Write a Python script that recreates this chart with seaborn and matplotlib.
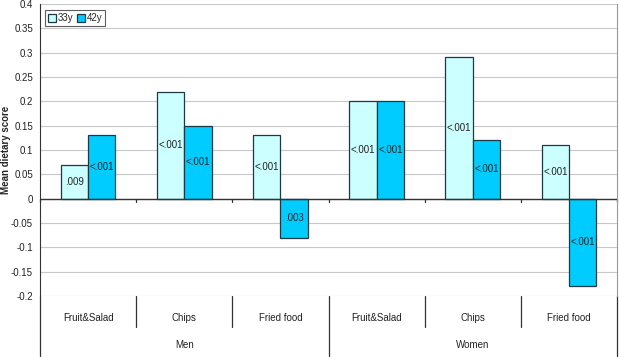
import pandas as pd
import matplotlib
matplotlib.use("Agg")
import matplotlib.pyplot as plt
import seaborn as sns

groups = ["Men", "Women"]
foods = ["Fruit&Salad", "Chips", "Fried food"]
ages = ["33y", "42y"]
men_33 = [0.07, 0.22, 0.13]
men_42 = [0.13, 0.15, -0.08]
women_33 = [0.20, 0.29, 0.11]
women_42 = [0.20, 0.12, -0.18]
p_33 = [".009", "<.001", "<.001", "<.001", "<.001", "<.001"]
p_42 = ["<.001", "<.001", ".003", "<.001", "<.001", "<.001"]

rows = []
for g, v33, v42 in [("Men", men_33, men_42), ("Women", women_33, women_42)]:
    for f, a, b in zip(foods, v33, v42):
        rows.append({"cat": g + "|" + f, "age": "33y", "score": a})
        rows.append({"cat": g + "|" + f, "age": "42y", "score": b})
df = pd.DataFrame(rows)
order = [g + "|" + f for g in groups for f in foods]

sns.set_style("white")
plt.rcParams['font.family'] = ['Liberation Sans', 'DejaVu Sans']

fig = plt.figure(figsize=(6.19, 3.57), dpi=100)
ax = fig.add_axes([0.0646, 0.171, 0.9324, 0.818])

ax.set_ylim(-0.2, 0.4)
ax.set_yticks([i * 0.05 for i in range(-4, 9)])
ax.yaxis.grid(True, color="#c8c8c8", linewidth=0.8)
ax.set_axisbelow(True)

sns.barplot(data=df, x="cat", y="score", hue="age", order=order,
            hue_order=ages, palette=["#ccffff", "#00ccff"],
            width=0.57, gap=0, edgecolor="#1a3a44", linewidth=0.9,
            saturation=1, ax=ax, errorbar=None)

for cont, labs in zip(ax.containers, [p_33, p_42]):
    ax.bar_label(cont, labels=labs, label_type="center", fontsize=7,
                 color="#222222")

ax.set_xlim(-0.5, 5.5)
ax.axhline(0, color="#333333", linewidth=1, zorder=3)

# y tick labels
ax.set_yticklabels([("%g" % round(t, 2)) for t in ax.get_yticks()],
                   fontsize=7, color="#222222")
ax.tick_params(axis="y", length=3, color="#333333", pad=2)
ax.tick_params(axis="x", length=0)
ax.set_xticklabels([])
ax.set_xlabel("")
ax.set_ylabel("Mean dietary score", fontsize=7, fontweight="bold")
ax.yaxis.set_label_coords(-0.051, 0.5)

for s in ["top", "bottom"]:
    ax.spines[s].set_visible(False)
ax.spines["left"].set_color("#333333")
ax.spines["right"].set_color("#999999")

trans = ax.get_xaxis_transform()
# category separators and labels
for i in range(7):
    x = i - 0.5
    low = -0.205 if i in (0, 3, 6) else -0.107
    ax.plot([x, x], [0, low], transform=trans, color="#333333",
            linewidth=0.9, clip_on=False)
    ax.plot([x, x], [1/3, 1/3 - 0.013], transform=trans, color="#333333",
            linewidth=0.9, clip_on=False)
for i, c in enumerate(order):
    ax.text(i, -0.075, c.split("|")[1], transform=trans, ha="center",
            va="center", fontsize=7, color="#222222")
for j, g in enumerate(groups):
    ax.text(j * 3 + 1, -0.167, g, transform=trans, ha="center",
            va="center", fontsize=7, color="#222222")

leg = ax.legend(loc="upper left", bbox_to_anchor=(0.005, 0.985), ncol=2,
                fontsize=7, frameon=True, fancybox=False, handlelength=0.8,
                handleheight=0.8, handletextpad=0.2, columnspacing=0.4,
                borderpad=0.3, borderaxespad=0.2)
leg.get_frame().set_edgecolor("#333333")
leg.get_frame().set_linewidth(0.8)
leg.set_title(None)

fig.savefig("out.png", dpi=100)
